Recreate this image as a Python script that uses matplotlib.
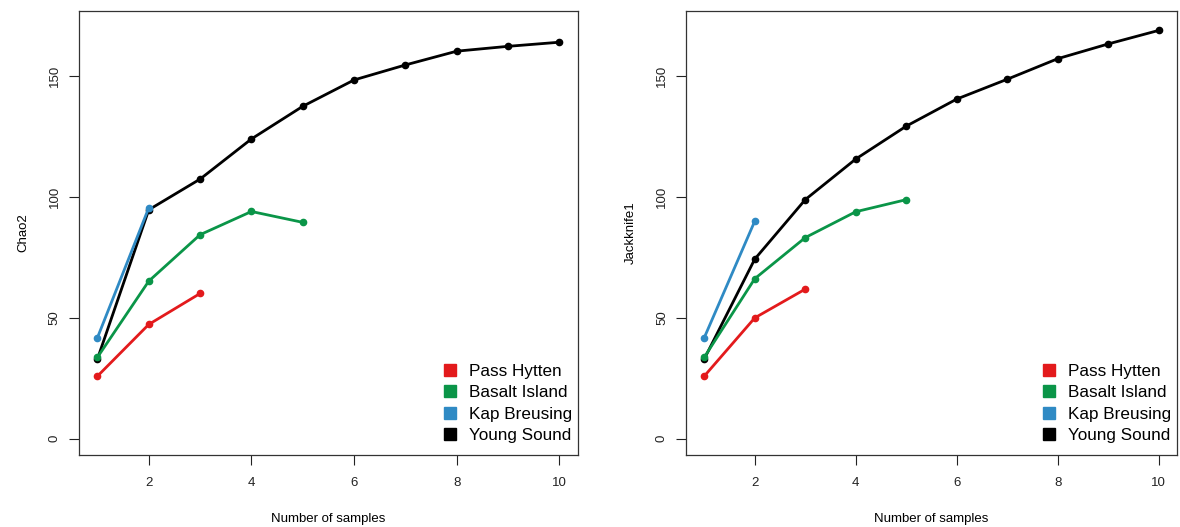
import matplotlib.pyplot as plt
from matplotlib.lines import Line2D

plt.rcParams["font.family"] = ["Liberation Sans", "DejaVu Sans"]

sites = ["Pass Hytten", "Basalt Island", "Kap Breusing", "Young Sound"]
colors = ["#e31a1c", "#0a9548", "#2f8ac4", "#000000"]

# Chao2 estimates per number of samples
chao2 = {
    "Pass Hytten": [25.8, 47.2, 60.0],
    "Basalt Island": [33.6, 65.1, 84.3, 93.9, 89.4],
    "Kap Breusing": [41.7, 95.4],
    "Young Sound": [32.9, 94.6, 107.3, 123.9, 137.4, 148.3, 154.5, 160.2, 162.2, 163.9],
}

# Jackknife1 estimates per number of samples
jack1 = {
    "Pass Hytten": [25.8, 49.9, 61.8],
    "Basalt Island": [33.6, 66.1, 83.1, 93.8, 98.8],
    "Kap Breusing": [41.7, 89.9],
    "Young Sound": [32.9, 74.2, 98.8, 115.6, 129.2, 140.4, 148.6, 157.1, 163.2, 168.8],
}

fig = plt.figure(figsize=(11.8, 5.27), dpi=100)
ax1 = fig.add_axes([0.0669, 0.1366, 0.4229, 0.8425])
ax2 = fig.add_axes([0.5814, 0.1366, 0.4161, 0.8425])

draw_order = ["Young Sound", "Pass Hytten", "Basalt Island", "Kap Breusing"]

for ax, data, ylabel in [(ax1, chao2, "Chao2"), (ax2, jack1, "Jackknife1")]:
    for site in draw_order:
        vals = data[site]
        col = colors[sites.index(site)]
        ax.plot(range(1, len(vals) + 1), vals, color=col, linewidth=2.0,
                marker="o", markersize=4.5, solid_capstyle="round")
    ax.set_xlim(0.64, 10.36)
    ax.set_ylim(-6.8, 176.8)
    ax.set_xticks([2, 4, 6, 8, 10])
    ax.set_yticks([0, 50, 100, 150])
    ax.tick_params(axis="both", direction="out", length=7, width=0.8,
                   labelsize=9.5, colors="#222222")
    ax.tick_params(axis="y", pad=6)
    ax.tick_params(axis="x", pad=9)
    for lab in ax.get_yticklabels():
        lab.set_rotation(90)
        lab.set_va("center")
    ax.set_xlabel("Number of samples", fontsize=9.5, labelpad=17)
    ax.set_ylabel(ylabel, fontsize=9.5, labelpad=14)
    for spine in ax.spines.values():
        spine.set_color("#333333")
        spine.set_linewidth(0.9)

    handles = [Line2D([], [], linestyle="none", marker="s", markersize=8,
                      color=c) for c in colors]
    ax.legend(handles, sites, loc="lower right", frameon=False, fontsize=12.3,
              handlelength=0.8, handletextpad=0.7, labelspacing=0.38,
              borderaxespad=0.3, bbox_to_anchor=(1.012, 0.0))

fig.savefig("out.png", dpi=100)
